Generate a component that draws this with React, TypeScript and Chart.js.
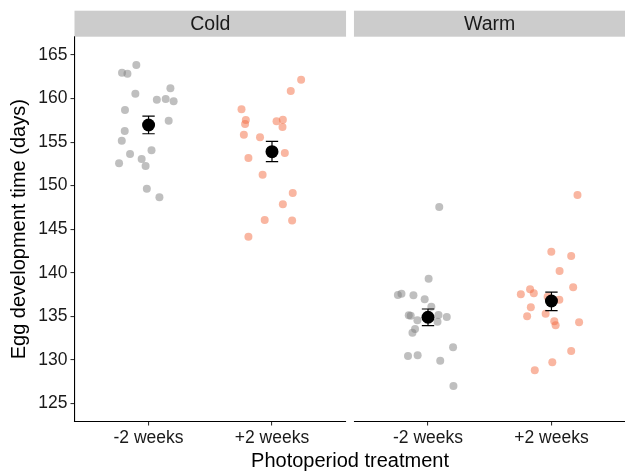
import React, { useEffect, useRef } from 'react';
import { Chart, registerables } from 'chart.js';

Chart.register(...registerables);

const panels = ['Cold', 'Warm'];
const categories = ['-2 weeks', '+2 weeks'];
const yTickValues = [125, 130, 135, 140, 145, 150, 155, 160, 165];

const coldMinusValues = [163.85, 162.97, 162.85, 161.18, 160.56, 159.87, 159.95, 159.68, 158.68, 157.46, 156.27, 155.16, 154.06, 153.63, 153.06, 152.56, 152.25, 149.65, 148.66];
const coldMinusJitter = [-0.099, -0.215, -0.171, 0.177, -0.107, 0.067, 0.139, 0.203, -0.191, 0.163, -0.193, -0.217, 0.024, -0.15, -0.056, -0.239, -0.024, -0.014, 0.088];

const coldPlusValues = [162.16, 160.87, 158.76, 157.54, 157.08, 157.39, 157.57, 156.73, 155.85, 155.55, 153.75, 153.17, 151.25, 149.15, 147.85, 146.05, 146.0, 144.13];
const coldPlusJitter = [0.236, 0.152, -0.247, -0.212, -0.218, 0.037, 0.088, 0.085, -0.228, -0.097, 0.104, -0.191, -0.076, 0.168, 0.088, -0.059, 0.163, -0.191];

const warmMinusValues = [147.54, 139.31, 137.44, 137.59, 137.4, 136.95, 136.1, 135.11, 135.06, 134.53, 135.14, 134.91, 134.37, 133.53, 133.11, 131.43, 130.43, 130.51, 129.89, 126.99];
const warmMinusJitter = [0.091, 0.005, -0.244, -0.215, -0.118, -0.027, 0.027, -0.156, -0.14, -0.086, 0.085, 0.152, 0.077, -0.105, -0.126, 0.203, -0.162, -0.084, 0.099, 0.206];

const warmPlusValues = [148.92, 142.41, 141.92, 140.2, 138.32, 138.09, 137.63, 137.52, 137.24, 136.9, 136.03, 135.29, 134.99, 134.42, 133.96, 134.3, 131.01, 129.71, 128.79];
const warmPlusJitter = [0.211, -0.001, 0.16, 0.066, 0.176, -0.173, -0.143, -0.248, -0.031, 0.064, -0.167, -0.047, -0.197, 0.023, 0.034, 0.224, 0.16, 0.007, -0.135];

// group order: Cold -2, Cold +2, Warm -2, Warm +2
const meanValues = [156.96, 153.9, 134.88, 136.75];
const meanLow = [155.96, 152.75, 133.91, 135.64];
const meanHigh = [157.99, 155.09, 135.83, 137.78];

const PANEL_SPAN = 2.2;
const GAP = 0.064;
const X_MIN = 0.4;
const X_MAX = X_MIN + 2 * PANEL_SPAN + GAP;
const Y_MIN = 122.91;
const Y_MAX = 167.07;

const FONT = '"Liberation Sans", Arial, Helvetica, sans-serif';

function catX(panel: number, cat: number) {
  return 1 + cat + panel * (PANEL_SPAN + GAP);
}

const groups = [
  { panel: 0, cat: 0, values: coldMinusValues, jitter: coldMinusJitter },
  { panel: 0, cat: 1, values: coldPlusValues, jitter: coldPlusJitter },
  { panel: 1, cat: 0, values: warmMinusValues, jitter: warmMinusJitter },
  { panel: 1, cat: 1, values: warmPlusValues, jitter: warmPlusJitter },
];

function pointsFor(cat: number) {
  const out: { x: number; y: number }[] = [];
  groups.filter((g) => g.cat === cat).forEach((g) => {
    g.values.forEach((v, i) => out.push({ x: catX(g.panel, g.cat) + g.jitter[i], y: v }));
  });
  return out;
}

const tickPositions = [catX(0, 0), catX(0, 1), catX(1, 0), catX(1, 1)];

const facetPlugin = {
  id: 'facets',
  beforeDatasetDraw(chart: any, args: any) {
    if (args.index !== 0) return;
    const { ctx } = chart;
    const xs = chart.scales.x;
    const ys = chart.scales.y;
    ctx.save();
    ctx.strokeStyle = '#000';
    ctx.lineWidth = 1.2;
    groups.forEach((g, i) => {
      const cx = xs.getPixelForValue(catX(g.panel, g.cat));
      const l = xs.getPixelForValue(catX(g.panel, g.cat) - 0.05);
      const r = xs.getPixelForValue(catX(g.panel, g.cat) + 0.05);
      const top = ys.getPixelForValue(meanHigh[i]);
      const bot = ys.getPixelForValue(meanLow[i]);
      ctx.beginPath();
      ctx.moveTo(cx, top);
      ctx.lineTo(cx, bot);
      ctx.moveTo(l, top);
      ctx.lineTo(r, top);
      ctx.moveTo(l, bot);
      ctx.lineTo(r, bot);
      ctx.stroke();
    });
    ctx.restore();
  },
  afterDraw(chart: any) {
    const { ctx, chartArea } = chart;
    const xs = chart.scales.x;
    ctx.save();
    panels.forEach((name, p) => {
      const x0 = xs.getPixelForValue(X_MIN + p * (PANEL_SPAN + GAP));
      const x1 = xs.getPixelForValue(X_MIN + p * (PANEL_SPAN + GAP) + PANEL_SPAN);
      ctx.fillStyle = '#CCCCCC';
      ctx.fillRect(x0, 10.7, x1 - x0, 26);
      ctx.fillStyle = '#1A1A1A';
      ctx.font = `19.5px ${FONT}`;
      ctx.textAlign = 'center';
      ctx.textBaseline = 'middle';
      ctx.fillText(name, (x0 + x1) / 2, 24.2);
      ctx.strokeStyle = '#000';
      ctx.lineWidth = 1.1;
      ctx.beginPath();
      ctx.moveTo(x0 - (p === 0 ? 0.55 : 0), chartArea.bottom);
      ctx.lineTo(x1, chartArea.bottom);
      ctx.stroke();
    });
    ctx.restore();
  },
};

export default function App() {
  const ref = useRef<HTMLCanvasElement | null>(null);

  useEffect(() => {
    if (!ref.current) return;
    const chart = new Chart(ref.current, {
      type: 'scatter',
      data: {
        datasets: [
          {
            label: 'mean',
            data: groups.map((g, i) => ({ x: catX(g.panel, g.cat), y: meanValues[i] })),
            backgroundColor: '#000',
            borderWidth: 0,
            pointRadius: 6.5,
            pointHoverRadius: 6.5,
            order: 0,
          },
          {
            label: categories[0],
            data: pointsFor(0),
            backgroundColor: 'rgba(128,128,128,0.5)',
            borderWidth: 0,
            pointRadius: 4,
            pointHoverRadius: 4,
            order: 1,
          },
          {
            label: categories[1],
            data: pointsFor(1),
            backgroundColor: 'rgba(244,109,67,0.5)',
            borderWidth: 0,
            pointRadius: 4,
            pointHoverRadius: 4,
            order: 2,
          },
        ],
      },
      options: {
        animation: false,
        responsive: false,
        devicePixelRatio: 1,
        events: [],
        layout: { padding: { left: 0, right: 2.1, top: 37, bottom: 0 } },
        plugins: { legend: { display: false }, tooltip: { enabled: false } },
        scales: {
          x: {
            type: 'linear',
            min: X_MIN,
            max: X_MAX,
            afterBuildTicks: (scale: any) => {
              scale.ticks = tickPositions.map((v) => ({ value: v }));
            },
            afterFit: (scale: any) => {
              scale.height = 52.5;
              scale.paddingLeft = 0;
              scale.paddingRight = 0;
            },
            ticks: {
              autoSkip: false,
              maxRotation: 0,
              padding: 2,
              color: '#1A1A1A',
              font: { family: FONT, size: 17.5 },
              callback: (_v: any, i: number) => categories[i % 2],
            },
            grid: { drawOnChartArea: false, drawTicks: true, tickLength: 4, color: '#333', lineWidth: 1.1 },
            border: { display: false },
            title: {
              display: true,
              text: 'Photoperiod treatment',
              color: '#000',
              font: { family: FONT, size: 20 },
              padding: { top: 0, bottom: 1 },
            },
          },
          y: {
            type: 'linear',
            min: Y_MIN,
            max: Y_MAX,
            afterBuildTicks: (scale: any) => {
              scale.ticks = yTickValues.map((v) => ({ value: v }));
            },
            afterFit: (scale: any) => {
              scale.width = 74.5;
              scale.paddingTop = 0;
              scale.paddingBottom = 0;
            },
            ticks: {
              padding: 3,
              color: '#1A1A1A',
              font: { family: FONT, size: 17.5 },
            },
            grid: { drawOnChartArea: false, drawTicks: true, tickLength: 4, color: '#333', lineWidth: 1.1 },
            border: { display: true, color: '#000', width: 1.1 },
            title: {
              display: true,
              text: 'Egg development time (days)',
              color: '#000',
              font: { family: FONT, size: 20 },
              padding: { top: 7, bottom: 0 },
            },
          },
        },
      },
      plugins: [facetPlugin],
    } as any);
    return () => chart.destroy();
  }, []);

  return (
    <div style={{ position: 'fixed', left: 0, top: 0, width: 625, height: 474, overflow: 'hidden', background: '#fff' }}>
      <canvas ref={ref} width={632} height={474} style={{ display: 'block', width: 632, height: 474 }} />
    </div>
  );
}
